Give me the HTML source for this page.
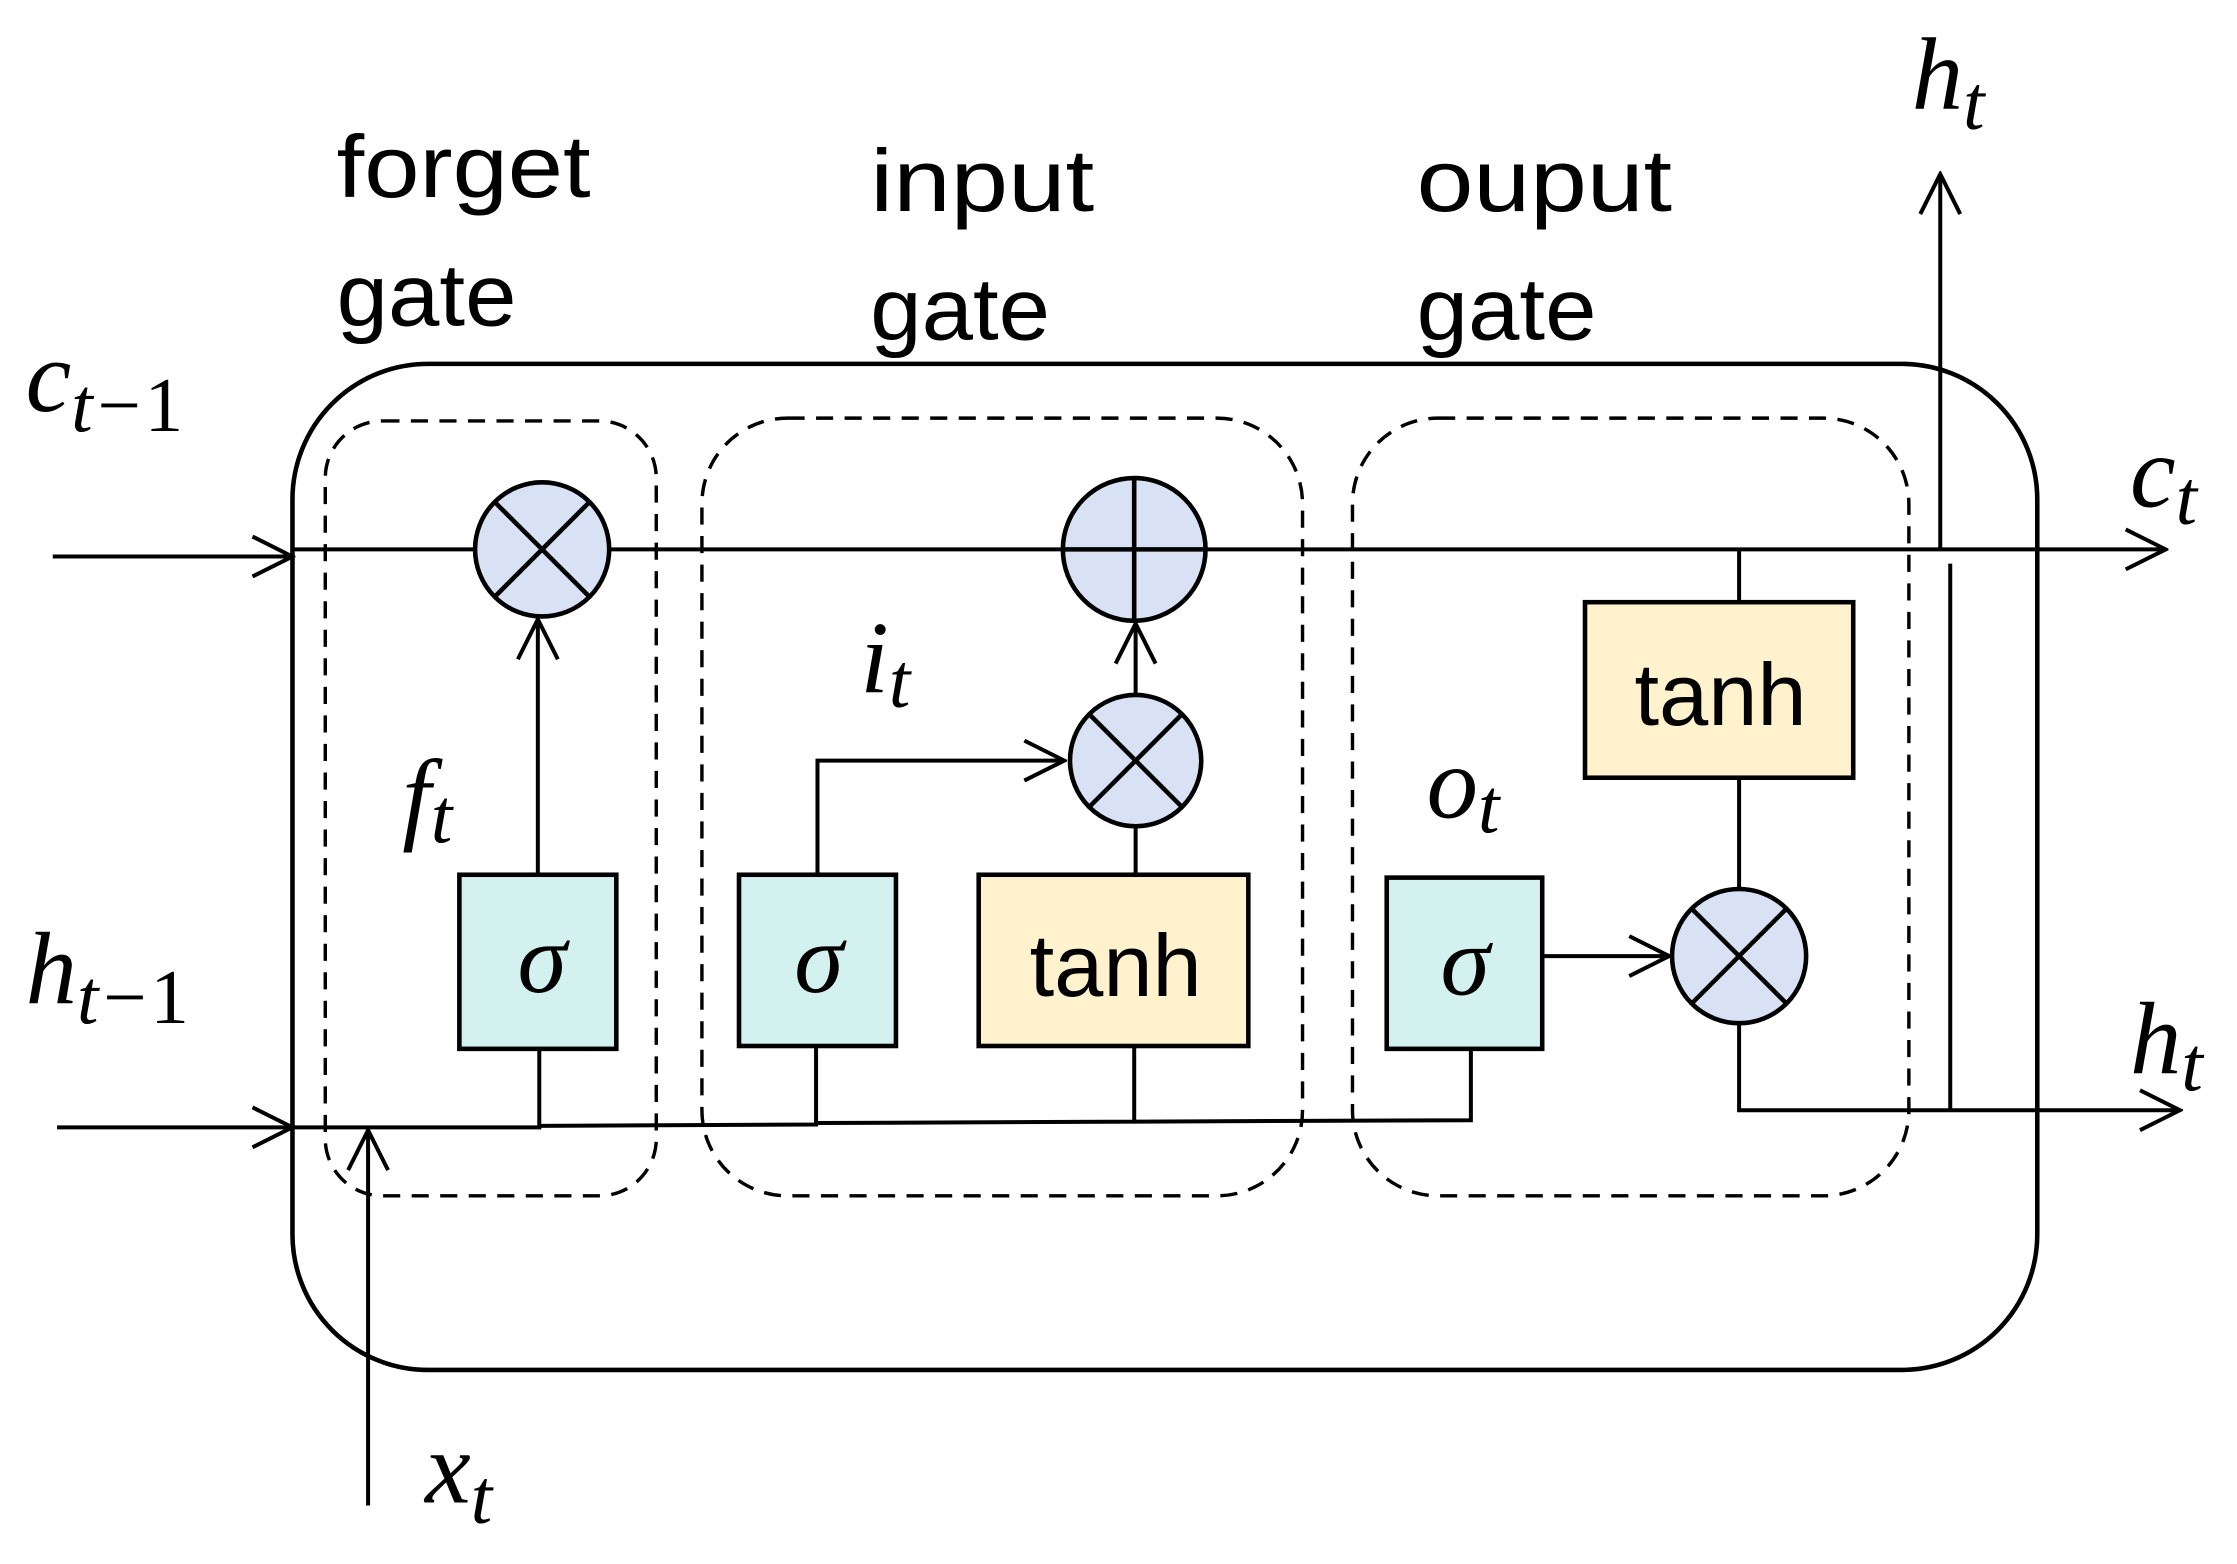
<!DOCTYPE html>
<html><head><meta charset="utf-8"><style>
html,body{margin:0;padding:0;background:#fff;}
svg{display:block;}
.g{font-family:"Liberation Sans",sans-serif;font-size:62px;fill:#000;}
.m{font-family:"Liberation Serif",serif;font-style:italic;fill:#000;}
.u{font-style:normal;}
</style></head><body>
<svg width="2237" height="1564" viewBox="0 0 1568 1096" preserveAspectRatio="none" xmlns="http://www.w3.org/2000/svg">
<defs>
<marker id="b" viewBox="0 0 32 32" refX="30" refY="16" markerWidth="32" markerHeight="32" markerUnits="userSpaceOnUse" orient="auto">
<path d="M2,2 L30,16 L2,30" fill="none" stroke="#000" stroke-width="2.8"/>
</marker>
</defs>
<g fill="none" stroke="#000" stroke-width="2.8">
<rect x="205" y="255" width="1223" height="705" rx="95" stroke-width="3.2"/>
<g stroke-dasharray="12,8" stroke-width="2.4">
<rect x="228" y="295" width="232" height="543" rx="40"/>
<rect x="492" y="293" width="421" height="545" rx="60"/>
<rect x="948" y="293" width="390" height="545" rx="60"/>
</g>
<line x1="37" y1="390" x2="205" y2="390" marker-end="url(#b)"/>
<line x1="40" y1="790" x2="205" y2="790" marker-end="url(#b)"/>
<line x1="205" y1="385" x2="1518" y2="385" marker-end="url(#b)"/>
<polyline points="205,790 378,790 378,735"/>
<polyline points="378,789 572,788 572,733"/>
<polyline points="572,787 795,786 795,733"/>
<polyline points="795,786 1031,785 1031,735"/>
<line x1="258" y1="1055" x2="258" y2="792" marker-end="url(#b)"/>
<line x1="377" y1="613" x2="377" y2="434" marker-end="url(#b)"/>
<polyline points="573,613 573,533 746,533" marker-end="url(#b)"/>
<line x1="796" y1="613" x2="796" y2="580"/>
<line x1="796" y1="486" x2="796" y2="437" marker-end="url(#b)"/>
<line x1="1081" y1="670" x2="1170" y2="670" marker-end="url(#b)"/>
<line x1="1219" y1="623" x2="1219" y2="545"/>
<line x1="1219" y1="422" x2="1219" y2="385"/>
<polyline points="1219,717 1219,778 1528,778" marker-end="url(#b)"/>
<line x1="1360" y1="385" x2="1360" y2="122" marker-end="url(#b)"/>
<line x1="1367" y1="395" x2="1367" y2="778"/>
</g>
<g stroke="#000" stroke-width="3.2">
<circle cx="380" cy="385" r="47" fill="#d9e1f4"/>
<line x1="347" y1="352" x2="413" y2="418"/><line x1="413" y1="352" x2="347" y2="418"/>
<circle cx="795" cy="385" r="50" fill="#d9e1f4"/>
<line x1="745" y1="385" x2="845" y2="385"/><line x1="795" y1="335" x2="795" y2="435"/>
<circle cx="796" cy="533" r="46" fill="#d9e1f4"/>
<line x1="763" y1="500" x2="829" y2="566"/><line x1="829" y1="500" x2="763" y2="566"/>
<circle cx="1219" cy="670" r="47" fill="#d9e1f4"/>
<line x1="1186" y1="637" x2="1252" y2="703"/><line x1="1252" y1="637" x2="1186" y2="703"/>
<rect x="322" y="613" width="110" height="122" fill="#d3f2ef"/>
<rect x="518" y="613" width="110" height="120" fill="#d3f2ef"/>
<rect x="972" y="615" width="109" height="120" fill="#d3f2ef"/>
<rect x="686" y="613" width="189" height="120" fill="#fff2cc"/>
<rect x="1111" y="422" width="188" height="123" fill="#fff2cc"/>
</g>
<g class="m" font-size="70" text-anchor="middle">
<text x="380" y="695">σ</text><text x="574" y="695">σ</text><text x="1027" y="697">σ</text>
</g>
<g class="g" font-size="64" text-anchor="middle">
<text x="782" y="698">tanh</text><text x="1206" y="508">tanh</text>
</g>
<g class="g">
<text x="236" y="138" textLength="178" lengthAdjust="spacingAndGlyphs">forget</text><text x="236" y="228" textLength="126" lengthAdjust="spacingAndGlyphs">gate</text>
<text x="610" y="148" textLength="157" lengthAdjust="spacingAndGlyphs">input</text><text x="610" y="238" textLength="126" lengthAdjust="spacingAndGlyphs">gate</text>
<text x="993" y="148" textLength="179" lengthAdjust="spacingAndGlyphs">ouput</text><text x="993" y="238" textLength="126" lengthAdjust="spacingAndGlyphs">gate</text>
</g>
<g class="m">
<text x="18" y="288" font-size="72">c<tspan font-size="54" dy="14">t−<tspan class="u">1</tspan></tspan></text>
<text x="18" y="703" font-size="72">h<tspan font-size="54" dy="14">t−<tspan class="u">1</tspan></tspan></text>
<text x="282" y="582" font-size="72">f<tspan font-size="54" dy="8">t</tspan></text>
<text x="603" y="485" font-size="72">i<tspan font-size="54" dy="10">t</tspan></text>
<text x="1000" y="573" font-size="72">o<tspan font-size="54" dy="10">t</tspan></text>
<text x="298" y="1053" font-size="72">x<tspan font-size="54" dy="14">t</tspan></text>
<text x="1340" y="76" font-size="72">h<tspan font-size="54" dy="14">t</tspan></text>
<text x="1493" y="355" font-size="72">c<tspan font-size="54" dy="12">t</tspan></text>
<text x="1493" y="752" font-size="72">h<tspan font-size="54" dy="12">t</tspan></text>
</g>
</svg>
</body></html>
